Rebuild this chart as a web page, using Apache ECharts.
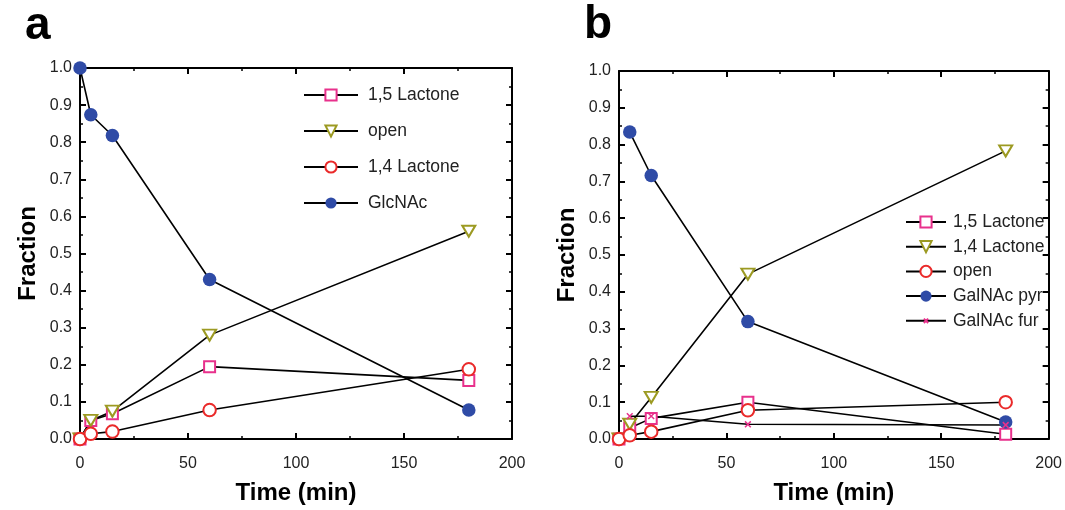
<!DOCTYPE html>
<html>
<head>
<meta charset="utf-8">
<script src="https://cdn.jsdelivr.net/npm/echarts@6/dist/echarts.min.js"></script>
<style>
  html, body { margin: 0; padding: 0; background: #fff; }
  #chart { width: 1065px; height: 510px; }
</style>
</head>
<body>
<div id="chart"></div>
<script>
// Panel a: GlcNAc hydrolysis products over time
const timesA = [0, 5, 15, 60, 180];
const lactone15A = [0.0, 0.05, 0.068, 0.195, 0.158];
const openA = [0.0, 0.05, 0.075, 0.28, 0.56];
const lactone14A = [0.0, 0.014, 0.02, 0.078, 0.188];
const glcnacA = [1.0, 0.874, 0.818, 0.43, 0.078];

// Panel b: GalNAc hydrolysis products over time
const timesB = [0, 5, 15, 60, 180];
const lactone15B = [0.0, 0.03, 0.056, 0.1, 0.013];
const lactone14B = [0.0, 0.04, 0.113, 0.448, 0.783];
const openB = [0.0, 0.01, 0.02, 0.078, 0.1];
const galnacPyrB = [null, 0.834, 0.716, 0.319, 0.046];
const galnacFurB = [null, 0.062, 0.062, 0.04, 0.038];

const xTicks = { min: 0, max: 200, interval: 50 };
const yTicks = { min: 0, max: 1, interval: 0.1 };

const PINK = '#e8318c';
const OLIVE = '#9c9a22';
const RED = '#ea2a2a';
const BLUE = '#2f4ba6';

const TRI_DOWN = 'path://M0,0 L12,0 L6,10.4 Z';
// small cross; the extra move points pad its box so it stays small in the legend too
const CROSS = 'path://M-8,-8 M18,18 M0,0 L10,10 M10,0 L0,10';

function pairs(times, vals) {
  const out = [];
  times.forEach((t, i) => { if (vals[i] !== null) out.push([t, vals[i]]); });
  return out;
}

const tickStyle = {
  axisLine: { show: true, onZero: false, lineStyle: { color: '#000', width: 2 } },
  axisTick: { show: true, inside: true, length: 6, lineStyle: { color: '#000', width: 2 } },
  minorTick: { show: true, splitNumber: 2, length: 3, lineStyle: { color: '#000', width: 1.5 } },
  splitLine: { show: false }
};

const labelFont = { fontFamily: 'Liberation Sans', fontSize: 16, color: '#222' };
const titleFont = { fontFamily: 'Liberation Sans', fontSize: 24, fontWeight: 'bold', color: '#000' };

function xAxes(grid) {
  return [
    Object.assign({
      type: 'value', gridIndex: grid, position: 'bottom',
      min: xTicks.min, max: xTicks.max, interval: xTicks.interval,
      name: 'Time (min)', nameLocation: 'middle', nameGap: 42, nameTextStyle: titleFont,
      axisLabel: Object.assign({ margin: 17 }, labelFont)
    }, tickStyle),
    Object.assign({
      type: 'value', gridIndex: grid, position: 'top',
      min: xTicks.min, max: xTicks.max, interval: xTicks.interval,
      axisLabel: { show: false }
    }, tickStyle)
  ];
}

function yAxes(grid) {
  return [
    Object.assign({
      type: 'value', gridIndex: grid, position: 'left',
      min: yTicks.min, max: yTicks.max, interval: yTicks.interval,
      name: 'Fraction', nameLocation: 'middle', nameGap: 40, nameTextStyle: titleFont,
      axisLabel: Object.assign({ margin: 8, formatter: v => v.toFixed(1) }, labelFont)
    }, tickStyle),
    Object.assign({
      type: 'value', gridIndex: grid, position: 'right',
      min: yTicks.min, max: yTicks.max, interval: yTicks.interval,
      axisLabel: { show: false }
    }, tickStyle)
  ];
}

function line(panel, name, xi, yi, data, symbol, size, fill, stroke, bw) {
  return {
    type: 'line', name: panel + '|' + name,
    xAxisIndex: xi, yAxisIndex: yi,
    data: data, clip: false,
    symbol: symbol, symbolSize: size, showAllSymbol: true,
    lineStyle: { color: '#000', width: 1.6 },
    itemStyle: { color: fill, borderColor: stroke, borderWidth: bw, opacity: 1 },
    emphasis: { disabled: true },
    animation: false
  };
}

const series = [
  line('a', '1,5 Lactone', 0, 0, pairs(timesA, lactone15A), 'rect', 11, '#fff', PINK, 2),
  line('a', 'open', 0, 0, pairs(timesA, openA), TRI_DOWN, [13, 11], '#fff', OLIVE, 2),
  line('a', '1,4 Lactone', 0, 0, pairs(timesA, lactone14A), 'circle', 12.5, '#fff', RED, 2),
  line('a', 'GlcNAc', 0, 0, pairs(timesA, glcnacA), 'circle', 13.5, BLUE, BLUE, 0),

  line('b', '1,5 Lactone', 2, 2, pairs(timesB, lactone15B), 'rect', 11, '#fff', PINK, 2),
  line('b', '1,4 Lactone', 2, 2, pairs(timesB, lactone14B), TRI_DOWN, [13, 11], '#fff', OLIVE, 2),
  line('b', 'open', 2, 2, pairs(timesB, openB), 'circle', 12.5, '#fff', RED, 2),
  line('b', 'GalNAc pyr', 2, 2, pairs(timesB, galnacPyrB), 'circle', 13.5, BLUE, BLUE, 0),
  line('b', 'GalNAc fur', 2, 2, pairs(timesB, galnacFurB), CROSS, 15, 'none', PINK, 1.5)
];

const legendTextA = { fontFamily: 'Liberation Sans', fontSize: 17.5, color: '#222', padding: [0, 0, 0, 5] };
const legendTextB = { fontFamily: 'Liberation Sans', fontSize: 17.5, color: '#222', padding: [0, 0, 0, 2] };

const option = {
  backgroundColor: '#fff',
  animation: false,
  grid: [
    { left: 80, top: 68, width: 432, height: 374 },
    { left: 619, top: 71, width: 433, height: 373 }
  ],
  xAxis: xAxes(0).concat(xAxes(1)),
  yAxis: yAxes(0).concat(yAxes(1)),
  legend: [
    {
      orient: 'vertical', left: 303, top: 86, padding: 0,
      itemWidth: 54, itemHeight: 14, itemGap: 18,
      selectedMode: false,
      data: ['a|1,5 Lactone', 'a|open', 'a|1,4 Lactone', 'a|GlcNAc'],
      formatter: n => n.split('|')[1],
      textStyle: legendTextA
    },
    {
      orient: 'vertical', left: 905, top: 213, padding: 0,
      itemWidth: 40, itemHeight: 14, itemGap: 6.7,
      selectedMode: false,
      data: ['b|1,5 Lactone', 'b|1,4 Lactone', 'b|open', 'b|GalNAc pyr', 'b|GalNAc fur'],
      formatter: n => n.split('|')[1],
      textStyle: legendTextB
    }
  ],
  graphic: [
    { type: 'text', left: 25, top: 3, style: { text: 'a', fontFamily: 'Liberation Sans', fontSize: 46, fontWeight: 'bold', fill: '#000' } },
    { type: 'text', left: 584, top: 2, style: { text: 'b', fontFamily: 'Liberation Sans', fontSize: 46, fontWeight: 'bold', fill: '#000' } }
  ],
  series: series
};

const chart = echarts.init(document.getElementById('chart'), null, { renderer: 'canvas' });
chart.setOption(option);
</script>
</body>
</html>
